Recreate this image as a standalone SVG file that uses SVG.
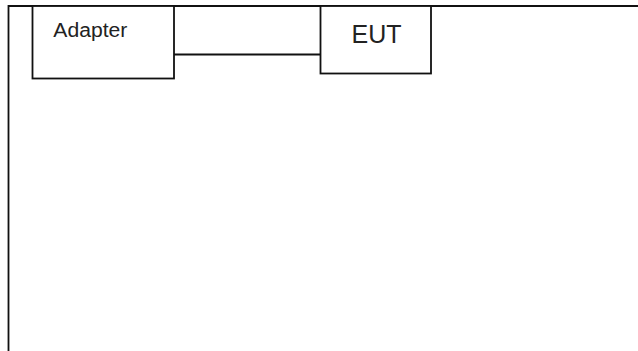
<svg xmlns="http://www.w3.org/2000/svg" width="638" height="351" viewBox="0 0 638 351">
<style>
.ln{stroke:#111;stroke-width:1.8;fill:none}
.box{stroke:#111;stroke-width:1.8;fill:#fff}
.t{font-family:"Liberation Sans",Arial,sans-serif;fill:#222}
</style>
<rect width="638" height="351" fill="#fff"/>
<g id="frame">
<path class="ln" d="M8.5,351 V6 H638"/>
</g>
<g id="connectors">
<line class="ln" x1="174" y1="54.5" x2="320" y2="54.5"/>
</g>
<g id="adapter">
<rect class="box" x="32.5" y="6" width="141.5" height="72.5"/>
<text class="t" x="53.3" y="36.7" font-size="20" textLength="74" lengthAdjust="spacingAndGlyphs">Adapter</text>
</g>
<g id="eut">
<rect class="box" x="320.5" y="6" width="110.5" height="67.5"/>
<text class="t" x="351.5" y="43" font-size="26" textLength="50" lengthAdjust="spacingAndGlyphs">EUT</text>
</g>
</svg>
